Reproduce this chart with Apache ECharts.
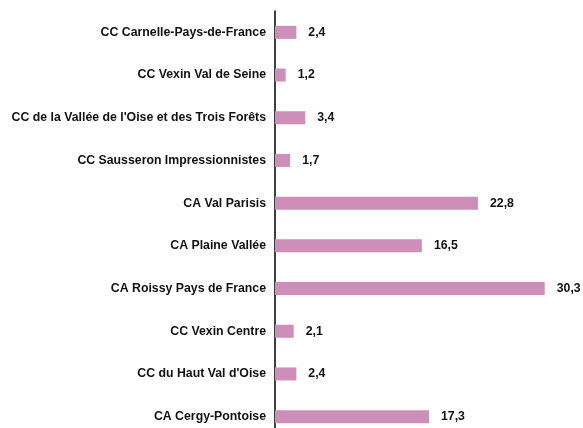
<!DOCTYPE html>
<html><head><meta charset="utf-8">
<script src="https://cdn.jsdelivr.net/npm/echarts@6/dist/echarts.min.js"></script>
<style>html,body{margin:0;padding:0;background:#fff}#c{width:583px;height:428px}</style>
</head><body><div id="c"></div>
<script>
const categories = [
  "CC Carnelle-Pays-de-France",
  "CC Vexin Val de Seine",
  "CC de la Vallée de l'Oise et des Trois Forêts",
  "CC Sausseron Impressionnistes",
  "CA Val Parisis",
  "CA Plaine Vallée",
  "CA Roissy Pays de France",
  "CC Vexin Centre",
  "CC du Haut Val d'Oise",
  "CA Cergy-Pontoise"
];
const values = [2.4, 1.2, 3.4, 1.7, 22.8, 16.5, 30.3, 2.1, 2.4, 17.3];

const chart = echarts.init(document.getElementById('c'), null, {renderer: 'canvas'});
chart.setOption({
  animation: false,
  grid: {left: 275, top: 11, height: 427, width: 308, outerBoundsMode: 'none', containLabel: false},
  xAxis: {type: 'value', min: 0, max: 34.6, show: false},
  yAxis: {
    type: 'category', data: categories, inverse: true,
    axisLine: {show: true, lineStyle: {color: '#000', width: 1.5}},
    axisTick: {show: false},
    axisLabel: {margin: 9, color: '#111', fontFamily: 'Liberation Sans, Arial, sans-serif', fontWeight: 'bold', fontSize: 12.3}
  },
  series: [{
    type: 'bar', data: values, barWidth: 13,
    itemStyle: {color: '#CD8FB8'},
    label: {show: true, position: 'right', distance: 12, color: '#111',
      fontFamily: 'Liberation Sans, Arial, sans-serif', fontWeight: 'bold', fontSize: 12.3,
      formatter: p => String(p.value).replace('.', ',')}
  }]
});
</script></body></html>
